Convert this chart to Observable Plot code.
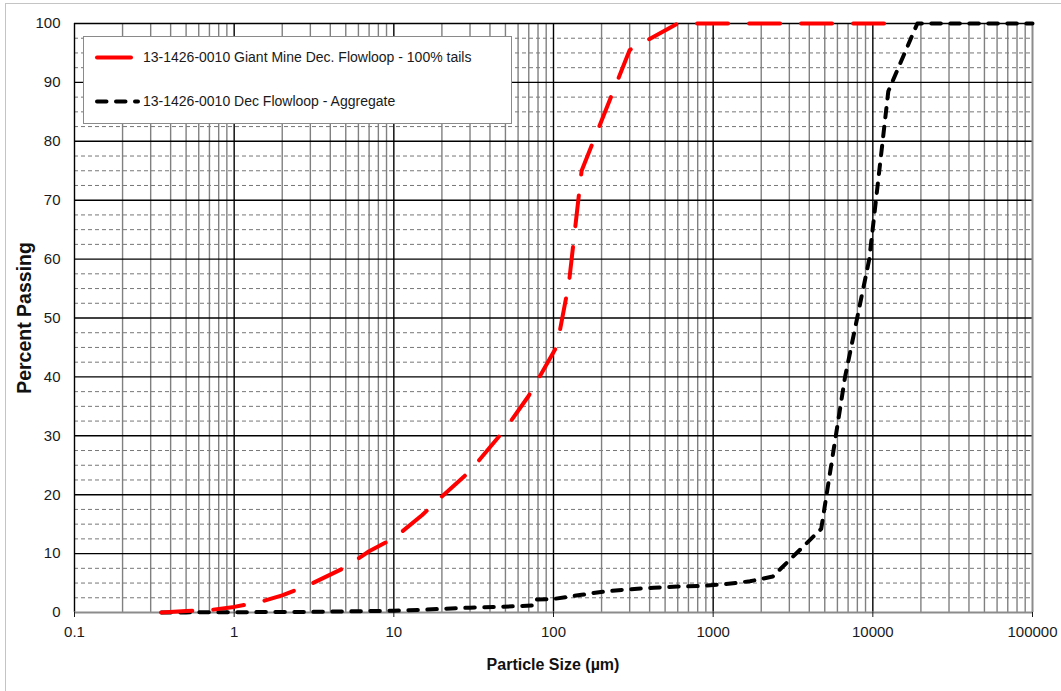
<!DOCTYPE html>
<html>
<head>
<meta charset="utf-8">
<script src="https://cdn.jsdelivr.net/npm/d3@7"></script>
<script src="https://cdn.jsdelivr.net/npm/@observablehq/plot@0.6"></script>
<style>
  html, body { margin: 0; padding: 0; background: #fff; }
  #chart { position: relative; width: 1061px; height: 691px; overflow: hidden; }
</style>
</head>
<body>
<div id="chart"></div>
<script>
// Particle size distribution: percent passing vs. particle size (log scale)

const seriesNames = [
  "13-1426-0010 Giant Mine Dec. Flowloop - 100% tails",
  "13-1426-0010 Dec Flowloop - Aggregate"
];

// 100% tails
const tailsSize    = [0.35, 0.5, 0.7, 1, 1.5, 2, 3, 5, 7, 10, 15, 20, 30, 50, 70, 105, 125, 150, 300, 600, 14000];
const tailsPassing = [0, 0.25, 0.4, 0.95, 1.9, 2.9, 4.8, 7.7, 10.4, 12.6, 16.5, 19.7, 24, 31.2, 36.8, 45.2, 56, 75, 95.5, 100, 100];

// Aggregate
const aggSize    = [0.35, 0.5, 1, 2, 3, 5, 10, 15, 20, 30, 45, 75, 77, 100, 150, 212, 300, 425, 600, 850, 1180, 1700, 2360, 4750, 6700, 9500, 12500, 19000, 100000];
const aggPassing = [0, 0.02, 0.05, 0.08, 0.1, 0.18, 0.3, 0.45, 0.62, 0.82, 0.95, 1.2, 2.2, 2.3, 3.0, 3.6, 3.95, 4.2, 4.4, 4.5, 4.8, 5.3, 6.1, 14.2, 40, 60, 88.5, 100, 100];

// Axis ticks
const xDecades    = [0.1, 1, 10, 100, 1000, 10000, 100000];
const xTickLabels = ["0.1", "1", "10", "100", "1000", "10000", "100000"];
const yMajor      = [0, 10, 20, 30, 40, 50, 60, 70, 80, 90, 100];

const xAxisTitle = "Particle Size (µm)";
const yAxisTitle = "Percent Passing";

// Tables for the line marks
const tails = tailsSize.map((s, i) => ({size: s, passing: tailsPassing[i]}));
const aggregate = aggSize.map((s, i) => ({size: s, passing: aggPassing[i]}));

// Log grid: 2..9 within each decade; linear grid: quarter steps between majors
const xMinor = xDecades.slice(0, -1).flatMap(d => [2, 3, 4, 5, 6, 7, 8, 9].map(k => +(d * k).toPrecision(3)));
const yMinor = yMajor.slice(0, -1).flatMap(v => [2.5, 5, 7.5].map(o => v + o));

const labelOf = new Map(xDecades.map((d, i) => [d, xTickLabels[i]]));

const FONT = "'Liberation Sans', Arial, Helvetica, sans-serif";

const chart = Plot.plot({
  width: 1061,
  height: 691,
  marginLeft: 74,
  marginRight: 29,
  marginTop: 23,
  marginBottom: 79,
  style: {fontFamily: FONT, fontSize: "15px", color: "#1a1a1a", background: "#fff", overflow: "visible"},
  x: {type: "log", domain: [0.1, 100000], label: null},
  y: {domain: [0, 100], label: null},
  marks: [
    Plot.ruleY(yMinor, {stroke: "#777", strokeWidth: 1, strokeDasharray: "4,3"}),
    Plot.ruleX(xMinor, {stroke: "#808080", strokeWidth: 1.4}),
    Plot.ruleY(yMajor.slice(1), {stroke: "#000", strokeWidth: 1.4}),
    Plot.ruleX(xDecades.slice(0, -1), {stroke: "#000", strokeWidth: 1.4}),
    Plot.ruleX([100000], {stroke: "#8c8c8c", strokeWidth: 2}),
    Plot.ruleY([0], {stroke: "#8c8c8c", strokeWidth: 2.2}),
    Plot.axisX({ticks: xDecades, tickFormat: d => labelOf.get(d), tickSize: 5, tickPadding: 9, label: null}),
    Plot.axisY({ticks: yMajor, tickSize: 0, tickPadding: 14, label: null}),
    Plot.line(aggregate, {x: "size", y: "passing", stroke: "#000", strokeWidth: 4,
      strokeDasharray: "9.5,9.5", strokeLinecap: "round", strokeLinejoin: "round"}),
    Plot.line(tails, {x: "size", y: "passing", stroke: "#ff0000", strokeWidth: 4,
      strokeDasharray: "31,21", strokeLinecap: "round", strokeLinejoin: "round"})
  ]
});

document.getElementById("chart").appendChild(chart);

const svg = d3.select(chart);

// Outer chart-area border
svg.insert("rect", ":first-child")
  .attr("x", 5.5).attr("y", 3.5).attr("width", 1100).attr("height", 720)
  .attr("fill", "none").attr("stroke", "#c4c4c4").attr("stroke-width", 1);

// Axis titles
svg.append("text")
  .attr("x", 553).attr("y", 670)
  .attr("text-anchor", "middle")
  .attr("font-family", FONT).attr("font-size", 16).attr("font-weight", "bold")
  .attr("fill", "#111")
  .text(xAxisTitle);

svg.append("text")
  .attr("transform", "translate(31,318) rotate(-90)")
  .attr("text-anchor", "middle")
  .attr("font-family", FONT).attr("font-size", 19.5).attr("font-weight", "bold")
  .attr("fill", "#111")
  .text(yAxisTitle);

// Legend box
const legend = svg.append("g");
legend.append("rect")
  .attr("x", 83.5).attr("y", 36.5).attr("width", 428).attr("height", 87)
  .attr("fill", "#fff").attr("stroke", "#8a8a8a").attr("stroke-width", 1);

const legendItems = [
  {name: seriesNames[0], color: "#ff0000", dash: null, y: 57.5, x2: 131},
  {name: seriesNames[1], color: "#000", dash: "9.5,9.5", y: 101.5, x2: 138}
];
legendItems.forEach(it => {
  legend.append("line")
    .attr("x1", 97).attr("x2", it.x2).attr("y1", it.y).attr("y2", it.y)
    .attr("stroke", it.color).attr("stroke-width", 4)
    .attr("stroke-linecap", "round")
    .attr("stroke-dasharray", it.dash);
  legend.append("text")
    .attr("x", 143).attr("y", it.y).attr("dy", "0.35em")
    .attr("text-anchor", "start")
    .attr("font-family", FONT).attr("font-size", 14).attr("fill", "#1a1a1a")
    .text(it.name);
});
</script>
</body>
</html>
